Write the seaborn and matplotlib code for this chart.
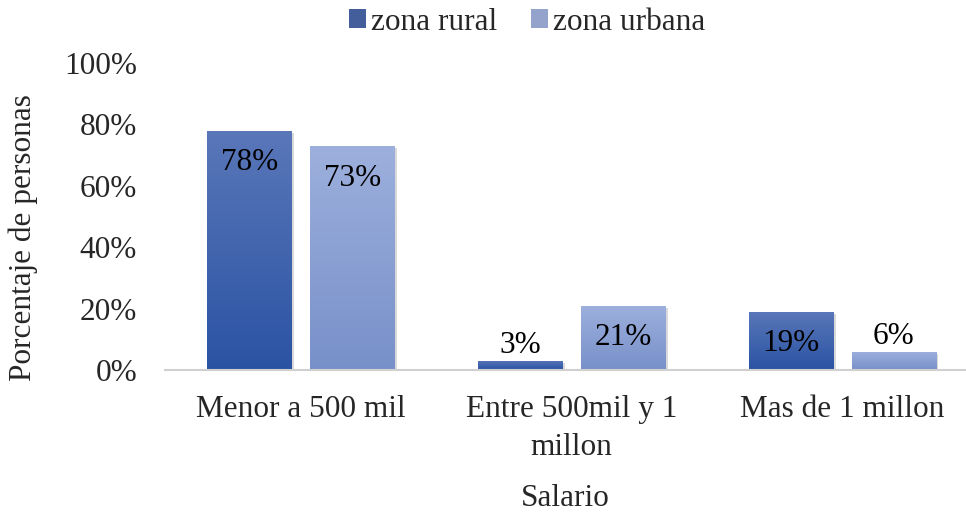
import numpy as np
import pandas as pd
import seaborn as sns
import matplotlib.pyplot as plt
from matplotlib.colors import LinearSegmentedColormap
from matplotlib import patheffects as pe

categorias = ['Menor a 500 mil', 'Entre 500mil y 1\nmillon', 'Mas de 1 millon']
zonas = ['zona rural', 'zona urbana']
rural = [78, 3, 19]
urbana = [73, 21, 6]

df = pd.DataFrame({
    'Salario': categorias * 2,
    'zona': [zonas[0]] * 3 + [zonas[1]] * 3,
    'valor': rural + urbana,
})

sns.set_style('white')
plt.rcParams['font.family'] = ['Liberation Serif', 'DejaVu Serif']
FS = 22.5

fig = plt.figure(figsize=(9.66, 5.19), dpi=100)
ax = fig.add_axes([165 / 966, 149 / 519, 801 / 966, 307 / 519])

colores = {'zona rural': '#3459a9', 'zona urbana': '#8a9fd4'}
sns.barplot(data=df, x='Salario', y='valor', hue='zona', palette=colores,
            width=0.76, gap=0.175, linewidth=0, ax=ax, legend=True)

# gradient fill for each bar
grad = {
    'zona rural': LinearSegmentedColormap.from_list('r', ['#2a53a3', '#5a77b9']),
    'zona urbana': LinearSegmentedColormap.from_list('u', ['#7890c9', '#9db0dd']),
}
g = np.linspace(0, 1, 256).reshape(-1, 1)
for cont, zona in zip(ax.containers, zonas):
    for bar, v in zip(cont, df[df['zona'] == zona]['valor']):
        x0, w, h = bar.get_x(), bar.get_width(), bar.get_height()
        bar.set_path_effects([pe.SimplePatchShadow(offset=(1.5, -1.5), shadow_rgbFace='#000000', alpha=0.15),
                              pe.Normal()])
        im = ax.imshow(g, cmap=grad[zona], aspect='auto', origin='lower',
                       extent=(x0, x0 + w, 0, h), zorder=bar.get_zorder() + 0.1)
        im.set_clip_path(bar)
        ty = v - 10.5 if v > 12 else v + 5
        ax.text(x0 + w / 2, ty, f'{v}%', ha='center', va='center',
                fontsize=FS, color='black', zorder=5)

ax.set_xlim(-0.502, 2.456)
ax.set_ylim(0, 100)
ax.set_yticks([0, 20, 40, 60, 80, 100])
ax.set_yticklabels([f'{t}%' for t in [0, 20, 40, 60, 80, 100]])
ax.tick_params(axis='both', labelsize=FS, length=0)
ax.tick_params(axis='x', pad=18)
ax.tick_params(axis='y', pad=20)
for t in ax.get_xticklabels():
    t.set_linespacing(1.4)
for s in ['top', 'right', 'left']:
    ax.spines[s].set_visible(False)
ax.spines['bottom'].set_color('#d0d0d0')
ax.spines['bottom'].set_linewidth(1.5)
ax.set_ylabel('Porcentaje de personas', fontsize=FS)
ax.yaxis.set_label_coords(-0.158, 0.43)
ax.set_xlabel('Salario', fontsize=FS, labelpad=16)

handles, labels = ax.get_legend_handles_labels()
leg = ax.legend(handles, labels, loc='center', ncol=2, frameon=False, fontsize=FS,
                handlelength=0.55, handleheight=0.55, handletextpad=0.15, columnspacing=1.1,
                bbox_to_anchor=(527 / 966, 497 / 519), bbox_transform=fig.transFigure)

fig.savefig('out.png', dpi=100)
